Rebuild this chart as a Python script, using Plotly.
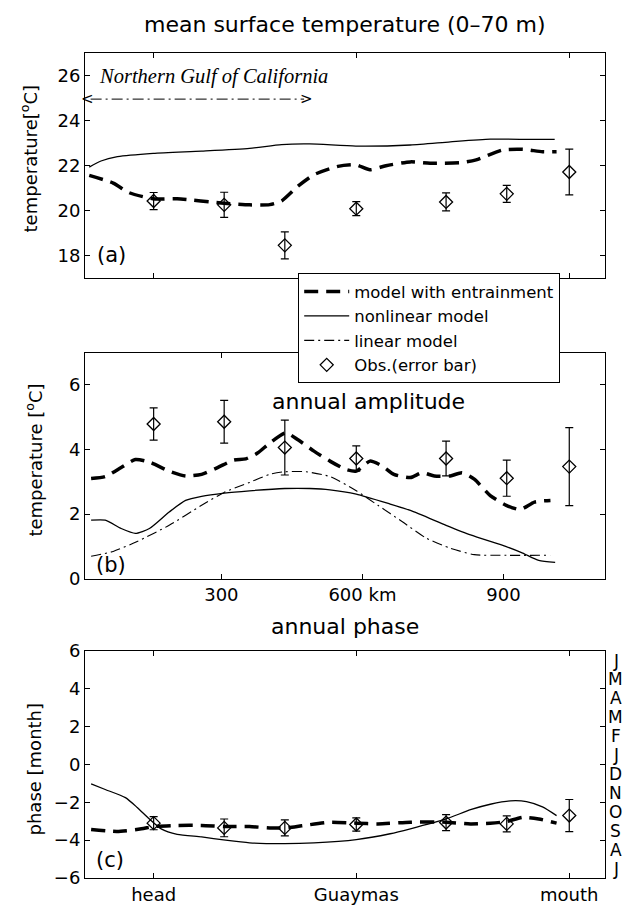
import plotly.graph_objects as go

# ---------------- data (x in km along the gulf) ----------------
obs_km = [156, 306, 435, 587, 778, 907, 1040]

# (a) mean surface temperature
a_obs = [20.42, 20.25, 18.45, 20.08, 20.38, 20.74, 21.71]
a_err = [0.38, 0.56, 0.60, 0.31, 0.40, 0.38, 1.02]
a_ent_km = [19, 70, 104, 155, 206, 306, 360, 403, 428, 463, 497, 548, 586, 616, 650, 702, 744, 812, 842, 898, 941, 983, 1013]
a_ent = [21.56, 21.22, 20.79, 20.52, 20.52, 20.32, 20.25, 20.26, 20.42, 21.08, 21.59, 21.96, 22.03, 21.81, 21.99, 22.16, 22.10, 22.13, 22.25, 22.69, 22.72, 22.61, 22.61]
a_nl_km = [19, 44, 79, 155, 258, 360, 428, 488, 586, 702, 787, 872, 957, 1009]
a_nl = [21.93, 22.20, 22.39, 22.54, 22.64, 22.76, 22.93, 22.96, 22.86, 22.91, 23.05, 23.17, 23.16, 23.16]

# (b) annual amplitude
b_obs = [4.79, 4.86, 4.06, 3.72, 3.72, 3.11, 3.47]
b_err = [0.50, 0.66, 0.85, 0.39, 0.54, 0.56, 1.21]
b_ent_km = [23, 53, 87, 117, 147, 189, 224, 258, 292, 326, 352, 377, 403, 437, 463, 497, 531, 565, 587, 616, 642, 667, 702, 727, 753, 787, 812, 838, 872, 906, 936, 966, 1000]
b_ent = [3.10, 3.16, 3.44, 3.69, 3.61, 3.33, 3.18, 3.23, 3.44, 3.67, 3.71, 3.89, 4.20, 4.52, 4.30, 3.95, 3.64, 3.38, 3.33, 3.64, 3.49, 3.23, 3.13, 3.28, 3.18, 3.18, 3.28, 3.08, 2.57, 2.27, 2.14, 2.37, 2.42]
b_nl_km = [23, 53, 87, 117, 147, 189, 224, 258, 306, 360, 435, 488, 531, 587, 659, 702, 778, 830, 906, 941, 975, 1010]
b_nl = [1.81, 1.81, 1.55, 1.40, 1.55, 2.06, 2.42, 2.55, 2.65, 2.72, 2.79, 2.79, 2.75, 2.62, 2.31, 2.11, 1.65, 1.35, 0.99, 0.79, 0.56, 0.50]
b_lin_km = [23, 70, 121, 189, 258, 306, 360, 403, 435, 480, 531, 587, 633, 685, 736, 787, 838, 906, 1000]
b_lin = [0.69, 0.84, 1.15, 1.65, 2.27, 2.67, 2.98, 3.23, 3.31, 3.31, 3.16, 2.72, 2.27, 1.76, 1.25, 0.94, 0.74, 0.72, 0.72]

# (c) annual phase
c_obs = [-3.10, -3.35, -3.35, -3.17, -3.07, -3.14, -2.70]
c_err = [0.35, 0.47, 0.42, 0.35, 0.42, 0.42, 0.85]
c_ent_km = [23, 78, 130, 156, 206, 258, 309, 360, 403, 437, 471, 531, 587, 633, 702, 778, 830, 872, 906, 941, 975, 1013]
c_ent = [-3.43, -3.54, -3.40, -3.28, -3.22, -3.22, -3.28, -3.28, -3.35, -3.35, -3.24, -3.05, -3.10, -3.14, -3.05, -3.05, -3.14, -3.10, -3.02, -2.79, -2.88, -3.10]
c_nl_km = [23, 53, 96, 121, 147, 172, 206, 258, 309, 360, 435, 497, 587, 659, 702, 778, 830, 872, 915, 949, 983, 1013]
c_nl = [-1.02, -1.32, -1.75, -2.27, -2.88, -3.40, -3.69, -3.83, -4.00, -4.14, -4.18, -4.14, -3.97, -3.66, -3.40, -2.88, -2.39, -2.10, -1.92, -1.96, -2.24, -2.70]

a_ticks = [156, 587, 1040]
b_ticks = [300, 600, 900]
b_ticktext = ["300", "600 km", "900"]
c_ticks = [156, 587, 1040]
c_ticktext = ["head", "Guaymas", "mouth"]
month_vals = [5.5, 4.5, 3.5, 2.5, 1.5, 0.5, -0.5, -1.5, -2.5, -3.5, -4.5, -5.5]
month_letters = ["J", "M", "A", "M", "F", "J", "D", "N", "O", "S", "A", "J"]
region_span_km = [22, 476]
region_level = 24.95

# ---------------- figure ----------------
FONT = "DejaVu Sans"
ENT = dict(color="black", width=3.5, dash="14px,8px", shape="spline", smoothing=0.6)
NL = dict(color="black", width=1.3, shape="spline", smoothing=0.6)
LIN = dict(color="black", width=1.1, dash="10px,4px,2px,4px", shape="spline", smoothing=0.6)
MK = dict(symbol="diamond-open", size=10, color="black", line=dict(color="black", width=1.3))


def err(arr):
    return dict(type="data", array=arr, visible=True, color="black", thickness=1.2, width=4)


fig = go.Figure()
# panel a
fig.add_trace(go.Scatter(x=a_ent_km, y=a_ent, mode="lines", line=ENT, name="model with entrainment",
                         legendrank=1, xaxis="x", yaxis="y"))
fig.add_trace(go.Scatter(x=a_nl_km, y=a_nl, mode="lines", line=NL, name="nonlinear model",
                         legendrank=2, xaxis="x", yaxis="y"))
fig.add_trace(go.Scatter(x=obs_km, y=a_obs, mode="markers", marker=MK, error_y=err(a_err),
                         name="Obs.(error bar)", legendrank=4, xaxis="x", yaxis="y"))
fig.add_trace(go.Scatter(x=region_span_km, y=[region_level, region_level], mode="lines",
                         line=dict(color="black", width=1, dash="11px,4px,2px,4px"),
                         showlegend=False, xaxis="x", yaxis="y"))
# panel b
fig.add_trace(go.Scatter(x=b_ent_km, y=b_ent, mode="lines", line=ENT, showlegend=False, xaxis="x2", yaxis="y2"))
fig.add_trace(go.Scatter(x=b_nl_km, y=b_nl, mode="lines", line=NL, showlegend=False, xaxis="x2", yaxis="y2"))
fig.add_trace(go.Scatter(x=b_lin_km, y=b_lin, mode="lines", line=LIN, name="linear model",
                         legendrank=3, xaxis="x2", yaxis="y2"))
fig.add_trace(go.Scatter(x=obs_km, y=b_obs, mode="markers", marker=MK, error_y=err(b_err),
                         showlegend=False, xaxis="x2", yaxis="y2"))
# panel c
fig.add_trace(go.Scatter(x=c_ent_km, y=c_ent, mode="lines", line=ENT, showlegend=False, xaxis="x3", yaxis="y3"))
fig.add_trace(go.Scatter(x=c_nl_km, y=c_nl, mode="lines", line=NL, showlegend=False, xaxis="x3", yaxis="y3"))
fig.add_trace(go.Scatter(x=obs_km, y=c_obs, mode="markers", marker=MK, error_y=err(c_err),
                         showlegend=False, xaxis="x3", yaxis="y3"))

AX = dict(showline=True, linecolor="black", linewidth=1, mirror="ticks", ticks="inside", ticklen=5,
          tickcolor="black", tickwidth=1, showgrid=False, zeroline=False,
          tickfont=dict(family=FONT, size=18, color="black"))
XR = [10, 1116]

annotations = [
    dict(text="mean surface temperature (0\u201370 m)", x=0.5, y=1.034, xref="paper", yref="paper",
         showarrow=False, xanchor="center", yanchor="middle", font=dict(family=FONT, size=22)),
    dict(text="annual phase", x=0.5, y=0.3052, xref="paper", yref="paper",
         showarrow=False, xanchor="center", yanchor="middle", font=dict(family=FONT, size=22)),
    dict(text="annual amplitude", x=613, y=5.49, xref="x2", yref="y2",
         showarrow=False, xanchor="center", yanchor="middle", font=dict(family=FONT, size=22)),
    dict(text="(a)", x=66, y=18.0, xref="x", yref="y", showarrow=False,
         xanchor="center", yanchor="middle", font=dict(family=FONT, size=21)),
    dict(text="(b)", x=66, y=0.43, xref="x2", yref="y2", showarrow=False,
         xanchor="center", yanchor="middle", font=dict(family=FONT, size=21)),
    dict(text="(c)", x=64, y=-5.06, xref="x3", yref="y3", showarrow=False,
         xanchor="center", yanchor="middle", font=dict(family=FONT, size=21)),
    dict(text="Northern Gulf of California", x=36, y=25.95, xref="x", yref="y", showarrow=False,
         xanchor="left", yanchor="middle",
         font=dict(family="Liberation Serif", size=20.5, style="italic")),
    dict(text="<", x=region_span_km[0] - 6, y=region_level, xref="x", yref="y", showarrow=False,
         xanchor="center", yanchor="middle", font=dict(family=FONT, size=15)),
    dict(text=">", x=region_span_km[1] + 6, y=region_level, xref="x", yref="y", showarrow=False,
         xanchor="center", yanchor="middle", font=dict(family=FONT, size=15)),
    dict(text="temperature[<sup>o</sup>C]", x=-0.108, y=0.872, xref="paper", yref="paper",
         showarrow=False, textangle=-90, xanchor="center", yanchor="middle", font=dict(family=FONT, size=18)),
    dict(text="temperature [<sup>o</sup>C]", x=-0.098, y=0.506, xref="paper", yref="paper",
         showarrow=False, textangle=-90, xanchor="center", yanchor="middle", font=dict(family=FONT, size=18)),
    dict(text="phase [month]", x=-0.098, y=0.1316, xref="paper", yref="paper",
         showarrow=False, textangle=-90, xanchor="center", yanchor="middle", font=dict(family=FONT, size=18)),
]
for v, t in zip(month_vals, month_letters):
    annotations.append(dict(text=t, x=1.021, y=v, xref="paper", yref="y3", showarrow=False,
                            xanchor="center", yanchor="middle", font=dict(family=FONT, size=17)))

fig.update_layout(
    width=631, height=909,
    margin=dict(l=77, r=34, t=45, b=28),
    paper_bgcolor="white", plot_bgcolor="white",
    font=dict(family=FONT, color="black", size=18),
    xaxis=dict(AX, domain=[0, 1], anchor="y", range=XR, tickvals=a_ticks, showticklabels=False),
    yaxis=dict(AX, domain=[0.7273, 1.0], anchor="x", range=[17, 27], tickvals=[18, 20, 22, 24, 26]),
    xaxis2=dict(AX, domain=[0, 1], anchor="y2", range=XR, tickvals=b_ticks, ticktext=b_ticktext),
    yaxis2=dict(AX, domain=[0.363, 0.6367], anchor="x2", range=[0, 7], tickvals=[0, 2, 4, 6]),
    xaxis3=dict(AX, domain=[0, 1], anchor="y3", range=XR, tickvals=c_ticks, ticktext=c_ticktext),
    yaxis3=dict(AX, domain=[0, 0.2751], anchor="x3", range=[-6, 6], tickvals=[-6, -4, -2, 0, 2, 4, 6]),
    showlegend=True,
    legend=dict(x=0.41, y=0.733, xref="paper", yref="paper", xanchor="left", yanchor="top",
                bgcolor="white", bordercolor="black", borderwidth=1, itemwidth=45,
                font=dict(family=FONT, size=16.5), tracegroupgap=0),
    annotations=annotations,
)

fig.write_html("out.html")
